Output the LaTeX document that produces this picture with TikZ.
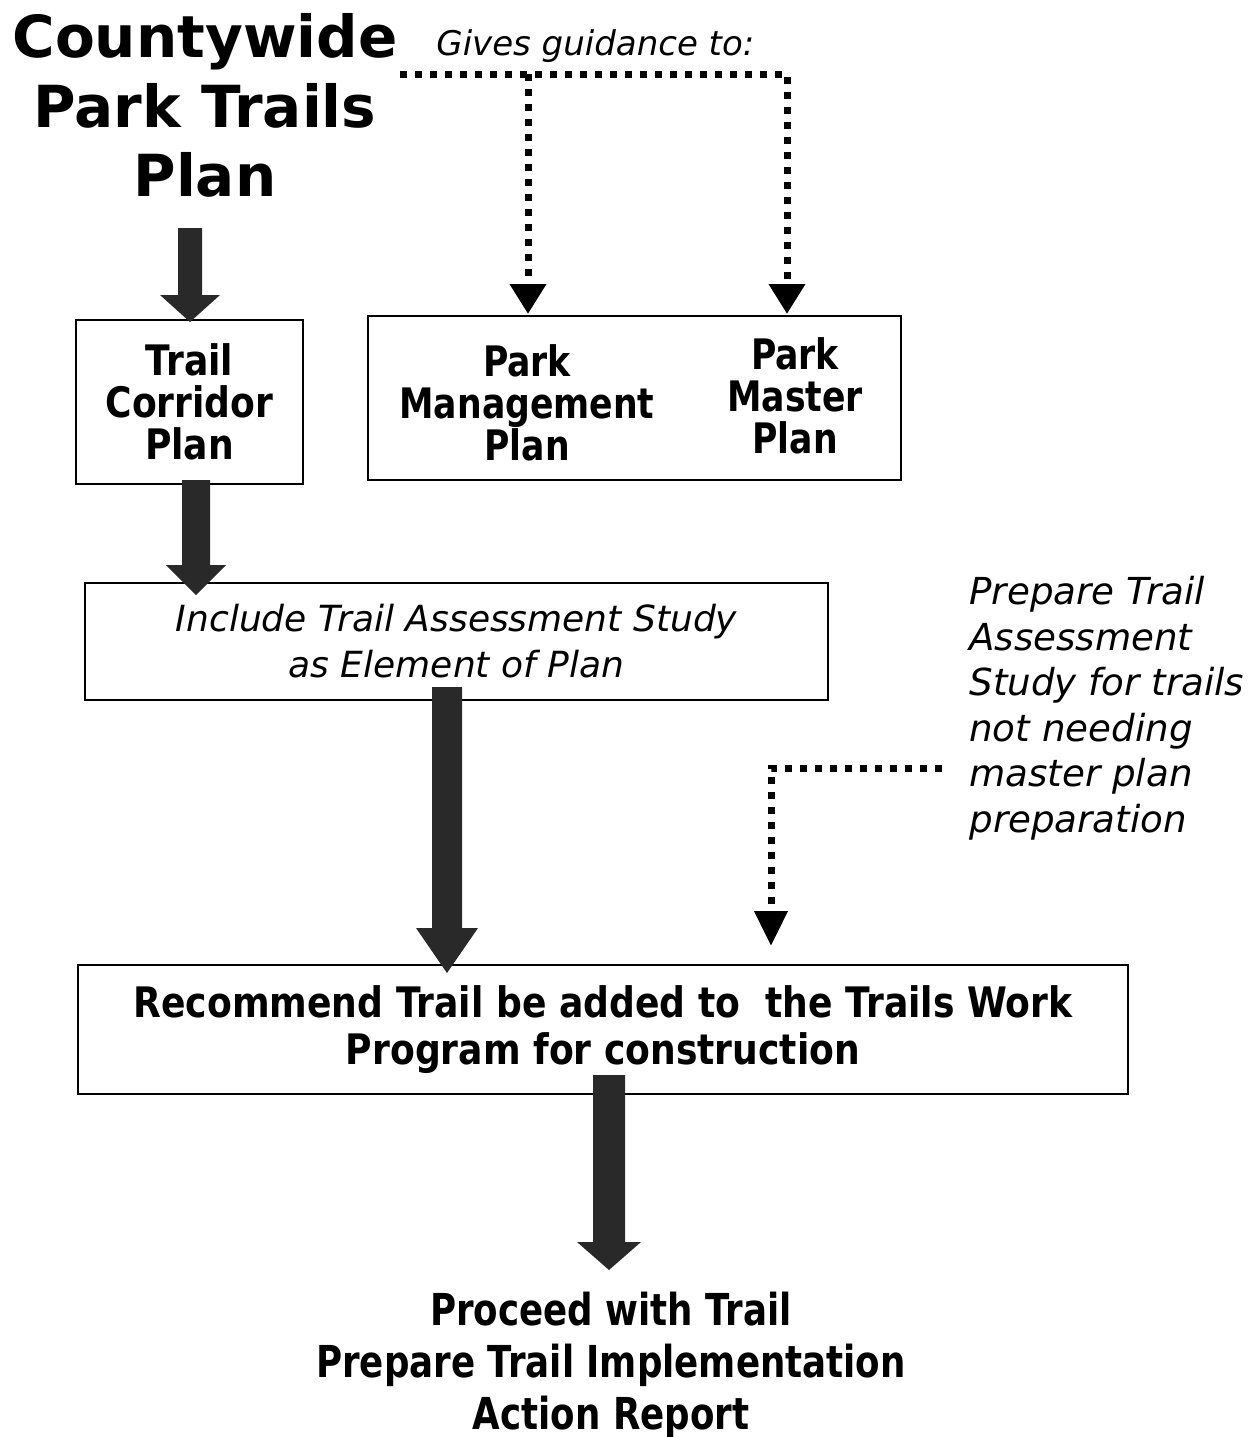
\documentclass[tikz,border=0pt]{standalone}
\usepackage{fontspec}
\setmainfont{DejaVu Sans}
\newfontfamily\narrowfont[FakeStretch=0.86]{DejaVu Sans}
\newfontfamily\parkfont[FakeStretch=0.825]{DejaVu Sans}
\newfontfamily\bottomfont[FakeStretch=0.81]{DejaVu Sans}
\usetikzlibrary{arrows.meta,calc}

% block arrow: #1 start, #2 tip, #3 shaft half width, #4 head half width, #5 head length (px)
\newcommand\drawblockarrow[5]{%
  \fill[blockfill] let \p1=(#1), \p2=(#2) in
    (\x1-#3*0.5pt,\y1) -- (\x1+#3*0.5pt,\y1) -- (\x1+#3*0.5pt,\y2+#5*0.5pt)
    -- (\x1+#4*0.5pt,\y2+#5*0.5pt) -- (\x1,\y2) -- (\x1-#4*0.5pt,\y2+#5*0.5pt)
    -- (\x1-#3*0.5pt,\y2+#5*0.5pt) -- cycle;}

\begin{document}
\begin{tikzpicture}[x=0.5pt,y=-0.5pt,
  box/.style={draw=black, line width=1pt, inner sep=0pt},
  boxtext/.style={font=\narrowfont\bfseries\fontsize{21pt}{21pt}\selectfont, align=center},
  parktext/.style={font=\parkfont\bfseries\fontsize{21pt}{21pt}\selectfont, align=center},
  itext/.style={font=\itshape\fontsize{18pt}{23pt}\selectfont},
  blockfill/.style={fill=black!84},
  dotline/.style={line width=3.5pt, dash pattern=on 3.5pt off 4pt, black},
  dothead/.style={-{Triangle[length=15pt,width=17.5pt]}},
  dotheadb/.style={-{Triangle[length=17.5pt,width=16pt]}},
]
\useasboundingbox[fill=white] (0,0) rectangle (1260,1437);

% title
\node[font=\bfseries\fontsize{29pt}{34.75pt}\selectfont, align=center, inner sep=0pt]
  (title) at (205,105.5) {Countywide\\Park Trails\\Plan};
\node[font=\itshape\fontsize{17pt}{20pt}\selectfont, anchor=base west, inner sep=0pt]
  (gives) at (436,55) {Gives guidance to:};

% boxes
\node[box, boxtext, minimum width=113.5pt, minimum height=82pt] (corridor) at (189.5,402)
  {Trail\\Corridor\\Plan};
\node[box, minimum width=266.5pt, minimum height=82pt] (park) at (634.5,398) {};
\node[parktext, inner sep=0pt] (mgmt) at (527,403) {Park\\Management\\Plan};
\node[parktext, inner sep=0pt] (master) at (795,396) {Park\\Master\\Plan};
\node[box, itext, align=center, minimum width=371.5pt, minimum height=58.5pt] (include) at (456.5,641.5)
  {Include Trail Assessment Study\\as Element of Plan};
\node[font=\itshape\fontsize{18.6pt}{22.75pt}\selectfont, align=left, anchor=west, inner sep=0pt]
  (prep) at (969,708)
  {Prepare Trail\\Assessment\\Study for trails\\not needing\\master plan\\preparation};
\node[box, font=\narrowfont\bfseries\fontsize{21pt}{23.5pt}\selectfont, align=center,
  minimum width=525pt, minimum height=64.5pt] (recommend) at (603,1029.5)
  {Recommend Trail be added to\ \ the Trails Work\\Program for construction};
\node[font=\bottomfont\bfseries\fontsize{22pt}{26pt}\selectfont, align=center, inner sep=0pt]
  (proceed) at (611,1365) {Proceed with Trail\\Prepare Trail Implementation\\Action Report};

% dotted guidance connectors
\coordinate (dstart) at (400,74);
\coordinate (dbranch) at (528,74);
\coordinate (tipmgmt) at (528,314);
\coordinate (tipmaster) at (787,314);
\draw[dotline, dothead] (dstart) -| (tipmaster);
\draw[dotline, dothead] (dbranch) -- (tipmgmt);

\coordinate (d2start) at (942,768);
\coordinate (d2tip) at (771,946);
\draw[dotline, dotheadb] (d2start) -| (d2tip);

% block arrows
\coordinate (a1s) at (190,228); \coordinate (a1t) at (190,322);
\coordinate (a2s) at (196,480); \coordinate (a2t) at (196,595);
\coordinate (a3s) at (447,687); \coordinate (a3t) at (447,973);
\coordinate (a4s) at (609,1075); \coordinate (a4t) at (609,1270);
\drawblockarrow{a1s}{a1t}{12}{30}{27}
\drawblockarrow{a2s}{a2t}{14}{30}{30}
\drawblockarrow{a3s}{a3t}{15}{31}{45}
\drawblockarrow{a4s}{a4t}{16}{32}{28}
\end{tikzpicture}
\end{document}
